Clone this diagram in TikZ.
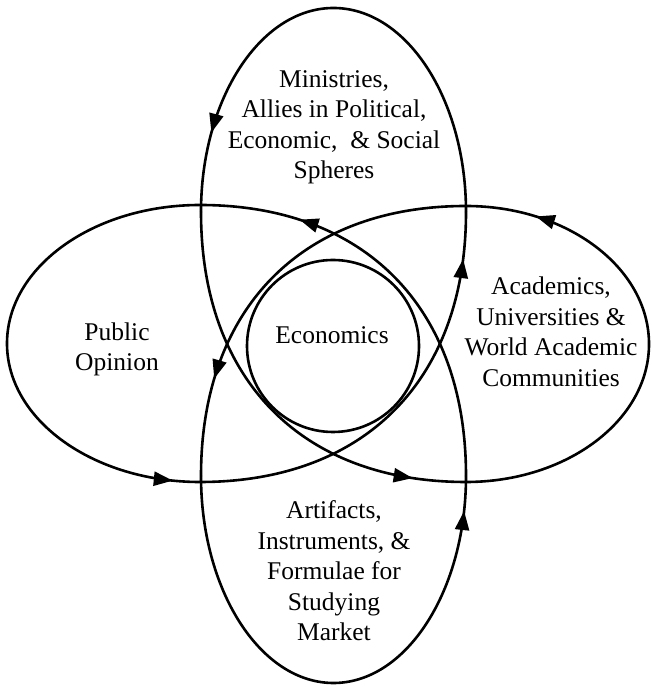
\documentclass[tikz,border=0pt]{standalone}
\usepackage{fontspec}
\setmainfont{Liberation Serif}
\usetikzlibrary{arrows.meta,decorations.markings}
\tikzset{
  lobe/.style={line width=2.6pt, line join=round},
  arr/.style={postaction={decorate,decoration={markings,
      mark=at position #1 with {\arrow{Triangle[length=19pt,width=14pt]}}}}},
  txt/.style={align=center, font=\fontsize{25.5}{30.5}\selectfont, inner sep=0pt},
}
\begin{document}
\begin{tikzpicture}[x=1pt,y=1pt]
\useasboundingbox (0,0) rectangle (651,687);
% top lobe
\draw[lobe, arr=0.85] (466,475) arc[start angle=0,end angle=180,x radius=132.5,y radius=204];
% connector top-left -> right-bottom
\draw[lobe, arr=0.875] (201,475) .. controls (201,307.6) and (301.7,205) .. (466,205);
% right lobe
\draw[lobe, arr=0.86] (466,205) arc[start angle=-90,end angle=90,x radius=183,y radius=138];
% connector right-top -> bottom-left
\draw[lobe, arr=0.77] (466,481) .. controls (301.7,481) and (201,378.4) .. (201,211);
% bottom lobe
\draw[lobe, arr=0.935] (201,211) arc[start angle=180,end angle=360,x radius=132.5,y radius=207];
% connector bottom-right -> left-top
\draw[lobe, arr=0.765] (466,211) .. controls (466,379) and (365,482) .. (200,482);
% left lobe
\draw[lobe, arr=0.948] (200,482) arc[start angle=90,end angle=270,x radius=193,y radius=138.5];
% connector left-bottom -> top-right
\draw[lobe, arr=0.89] (200,205) .. controls (365,205) and (466,307.6) .. (466,475);
% central circle
\draw[lobe] (333,341) circle[radius=86];
% texts
\node[txt] (min) at (334,559.5) {Ministries,\\Allies in Political,\\Economic,~ \& Social\\Spheres};
\node[txt] (pub) at (117,337.5) {Public\\Opinion};
\node[txt] (eco) at (332,352) {Economics};
\node[txt] (aca) at (551,355) {Academics,\\Universities \&\\World Academic\\Communities};
\node[txt] (art) at (334,116) {Artifacts,\\Instruments, \&\\Formulae for\\Studying\\Market};
\end{tikzpicture}
\end{document}
